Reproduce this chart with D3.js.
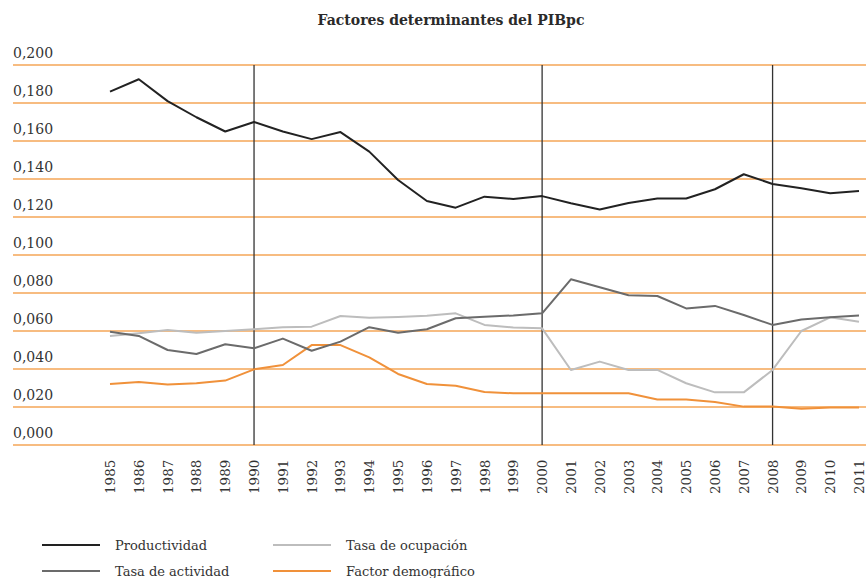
<!DOCTYPE html>
<html>
<head>
<meta charset="utf-8">
<script src="https://cdn.jsdelivr.net/npm/d3@7"></script>
<style>
  body { margin: 0; background: #fff; }
  text { font-family: "DejaVu Serif", "Liberation Serif", serif; fill: #333; }
</style>
</head>
<body>
<svg class="chart"></svg>
<script>
// set the dimensions of the page
var width = 866, height = 578;

// data
var years = d3.range(1985, 2012);
var productividad = [0.186, 0.1925, 0.181, 0.1725, 0.165, 0.170, 0.165, 0.161, 0.1647, 0.1544,
    0.1395, 0.1284, 0.1249, 0.1307, 0.1295, 0.131, 0.1272, 0.124, 0.1274, 0.1297,
    0.1297, 0.1346, 0.1425, 0.1374, 0.1351, 0.1325, 0.1337];
var tasaActividad = [0.0596, 0.0574, 0.050, 0.0479, 0.053, 0.0509, 0.056, 0.0496, 0.0544, 0.062,
    0.0591, 0.0609, 0.0667, 0.0675, 0.0682, 0.0693, 0.0872, 0.083, 0.0788, 0.0784,
    0.0719, 0.0732, 0.0684, 0.0632, 0.0661, 0.0672, 0.0682];
var tasaOcupacion = [0.0574, 0.0588, 0.0605, 0.0591, 0.060, 0.0609, 0.062, 0.0623, 0.0679, 0.067,
    0.0674, 0.068, 0.0693, 0.0632, 0.0618, 0.0614, 0.0395, 0.0439, 0.0395, 0.0395,
    0.0325, 0.0277, 0.0277, 0.0395, 0.060, 0.0672, 0.0649];
var factorDemografico = [0.0321, 0.0332, 0.0318, 0.0325, 0.0339, 0.0398, 0.0421, 0.0526, 0.0526, 0.0461,
    0.0374, 0.0321, 0.0312, 0.0279, 0.0272, 0.0272, 0.0272, 0.0272, 0.0272, 0.024,
    0.024, 0.0226, 0.0202, 0.0202, 0.0191, 0.0198, 0.0198];
var yTicks = [0, 0.02, 0.04, 0.06, 0.08, 0.10, 0.12, 0.14, 0.16, 0.18, 0.20];
var markerYears = [1990, 2000, 2008];

var series = [
    { name: "Productividad", values: productividad, color: "#222222" },
    { name: "Tasa de actividad", values: tasaActividad, color: "#6b6b6b" },
    { name: "Tasa de ocupación", values: tasaOcupacion, color: "#bdbdbd" },
    { name: "Factor demográfico", values: factorDemografico, color: "#f0913a" }
];

var svg = d3.select("svg.chart")
    .attr("width", width)
    .attr("height", height);

// set the ranges
var x = d3.scaleLinear().domain([1985, 2011]).range([110, 859]);
var y = d3.scaleLinear().domain([0, 0.2]).range([445, 65]);
var fmt = function (d) { return d3.format(".3f")(d).replace(".", ","); };

// title
svg.append("text")
    .text("Factores determinantes del PIBpc")
    .attr("x", 451)
    .attr("y", 25)
    .attr("text-anchor", "middle")
    .style("font-weight", "bold")
    .style("font-size", "14px")
    .style("fill", "#2a2a2a");

// horizontal grid lines and their labels
svg.append("g")
    .selectAll("line")
    .data(yTicks)
    .enter().append("line")
    .attr("x1", 13)
    .attr("x2", width)
    .attr("y1", (d) => y(d))
    .attr("y2", (d) => y(d))
    .attr("stroke", "#f5a657")
    .attr("stroke-width", 1.6);

svg.append("g")
    .selectAll("text")
    .data(yTicks)
    .enter().append("text")
    .text(fmt)
    .attr("x", 13)
    .attr("y", (d) => y(d) - 7)
    .style("font-size", "14px");

// vertical marker lines
svg.append("g")
    .selectAll("line")
    .data(markerYears)
    .enter().append("line")
    .attr("x1", (d) => x(d))
    .attr("x2", (d) => x(d))
    .attr("y1", y(0.2))
    .attr("y2", y(0))
    .attr("stroke", "#333")
    .attr("stroke-width", 1.3);

// year labels, rotated
svg.append("g")
    .selectAll("text")
    .data(years)
    .enter().append("text")
    .text((d) => d)
    .attr("transform", (d) => "translate(" + (x(d) + 5) + ",494) rotate(-90)")
    .style("font-size", "13.5px");

// define the line
var lineGenerator = (values) => d3.line()
    .x((d, i) => x(years[i]))
    .y((d) => y(d))(values);

svg.append("g")
    .selectAll("path")
    .data(series.slice().reverse())
    .enter().append("path")
    .attr("d", (d) => lineGenerator(d.values))
    .attr("fill", "none")
    .attr("stroke", (d) => d.color)
    .attr("stroke-width", 2)
    .attr("stroke-linejoin", "round");

// legend
var legendPos = [[42, 545], [42, 571], [273, 545], [273, 571]];
var legend = svg.append("g")
    .selectAll("g")
    .data(series)
    .enter().append("g")
    .attr("transform", (d, i) => "translate(" + legendPos[i][0] + "," + legendPos[i][1] + ")");

legend.append("line")
    .attr("x1", 0)
    .attr("x2", 58)
    .attr("stroke", (d) => d.color)
    .attr("stroke-width", 2);

legend.append("text")
    .text((d) => d.name)
    .attr("x", 73)
    .attr("y", 5)
    .style("font-size", "13px");
</script>
</body>
</html>
